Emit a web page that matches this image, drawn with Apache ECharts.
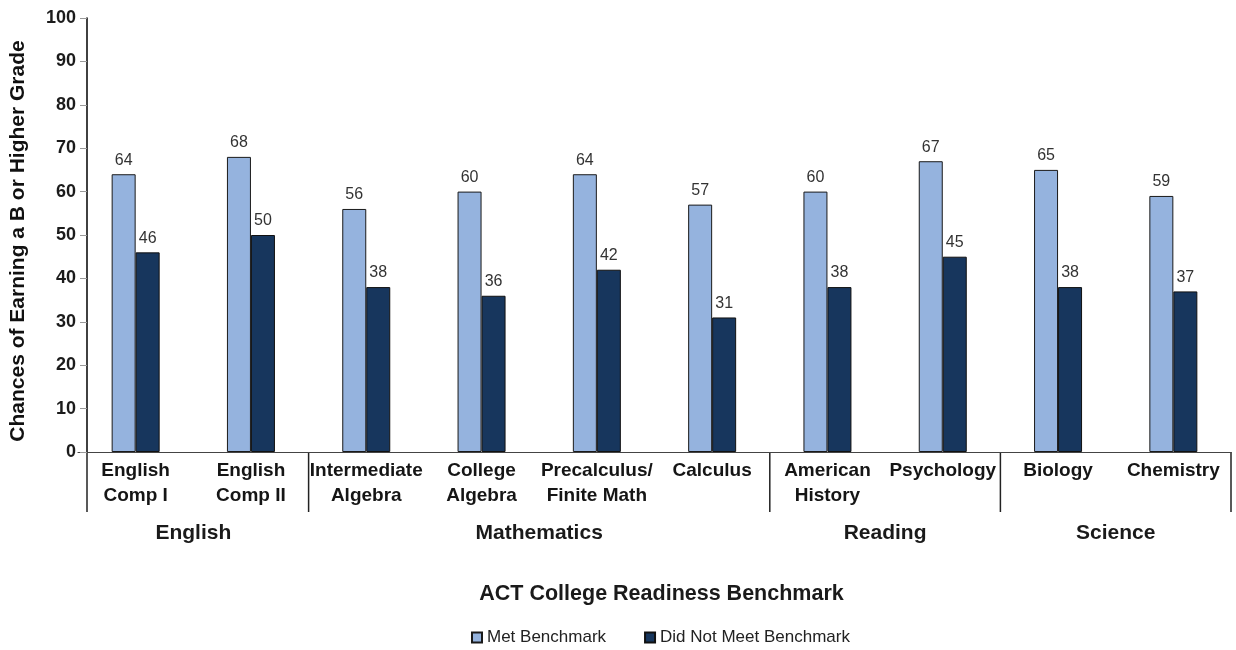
<!DOCTYPE html>
<html>
<head>
<meta charset="utf-8">
<script src="https://cdn.jsdelivr.net/npm/echarts@6/dist/echarts.min.js"></script>
<style>
  html, body { margin: 0; padding: 0; background: #fff; }
  #chart { width: 1236px; height: 650px; }
</style>
</head>
<body>
<div id="chart"></div>
<script>
  // data
  const categories = [
    'English\nComp I', 'English\nComp II', 'Intermediate\nAlgebra', 'College\nAlgebra',
    'Precalculus/\nFinite Math', 'Calculus', 'American\nHistory', 'Psychology', 'Biology', 'Chemistry'
  ]
  const metBenchmark = [64, 68, 56, 60, 64, 57, 60, 67, 65, 59]
  const notMetBenchmark = [46, 50, 38, 36, 42, 31, 38, 45, 38, 37]
  const groupNames = ['English', 'Mathematics', 'Reading', 'Science']
  const groupSizes = [2, 4, 2, 2]

  const FONT = "'Liberation Sans', Arial, sans-serif"
  const GRID_LEFT = 78
  const AXIS_SHIFT = 9 // y axis sits a bit inside the grid

  const chart = echarts.init(document.getElementById('chart'))

  const option = {
    animation: false,
    textStyle: { fontFamily: FONT },
    grid: { left: GRID_LEFT, right: 5, top: 18, bottom: 198 },
    legend: {
      data: ['Met Benchmark', 'Did Not Meet Benchmark'],
      top: 624,
      left: 466,
      icon: 'rect',
      itemWidth: 10,
      itemHeight: 10,
      itemGap: 38,
      textStyle: { fontSize: 17, color: '#222', fontFamily: FONT }
    },
    xAxis: {
      type: 'category',
      data: categories,
      name: 'ACT College Readiness Benchmark',
      nameLocation: 'middle',
      nameGap: 131,
      nameTextStyle: { fontSize: 21.5, fontWeight: 'bold', color: '#1a1a1a', fontFamily: FONT, padding: [0, 0, 0, 14] },
      axisLine: { lineStyle: { color: '#444', width: 1.2 } },
      axisTick: { show: false },
      axisLabel: {
        interval: 0,
        fontSize: 19,
        fontWeight: 'bold',
        color: '#151515',
        lineHeight: 25,
        margin: 6,
        fontFamily: FONT
      }
    },
    yAxis: {
      type: 'value',
      min: 0,
      max: 100,
      interval: 10,
      offset: -AXIS_SHIFT,
      name: 'Chances of Earning a B or Higher Grade',
      nameLocation: 'middle',
      nameGap: 58,
      nameTextStyle: { fontSize: 21, fontWeight: 'bold', color: '#111', fontFamily: FONT, padding: [0, 12, 0, 0] },
      splitLine: { show: false },
      axisLine: { show: true, lineStyle: { color: '#111', width: 1.6 } },
      axisTick: { show: true, inside: false, length: 7, lineStyle: { color: '#999' } },
      axisLabel: { fontSize: 18, fontWeight: 'bold', color: '#1b1b1b', margin: 11, fontFamily: FONT }
    },
    series: [
      {
        name: 'Met Benchmark',
        type: 'bar',
        data: metBenchmark,
        barWidth: 24,
        barGap: '0%',
        itemStyle: { color: '#95B3DE', borderColor: '#1a1a1a', borderWidth: 1 },
        label: { show: true, position: 'top', distance: 6, fontSize: 16, color: '#333', fontFamily: FONT }
      },
      {
        name: 'Did Not Meet Benchmark',
        type: 'bar',
        data: notMetBenchmark,
        barWidth: 24,
        itemStyle: { color: '#17365D', borderColor: '#111', borderWidth: 1 },
        label: { show: true, position: 'top', distance: 6, fontSize: 16, color: '#333', fontFamily: FONT }
      }
    ]
  }

  chart.setOption(option)

  // group separators and group names below the category labels
  const px = i => chart.convertToPixel({ xAxisIndex: 0 }, i)
  const step = px(1) - px(0)
  const y0 = chart.convertToPixel({ yAxisIndex: 0 }, 0)
  const elements = []
  let start = 0
  groupSizes.forEach((size, g) => {
    const end = start + size - 1
    const leftX = g === 0 ? GRID_LEFT + AXIS_SHIFT : px(start) - step / 2
    elements.push({
      type: 'line',
      shape: { x1: leftX, y1: y0, x2: leftX, y2: y0 + 60 },
      style: { stroke: '#222', lineWidth: 1.5 }
    })
    elements.push({
      type: 'text',
      x: (px(start) + px(end)) / 2,
      y: y0 + 81,
      style: {
        text: groupNames[g],
        fontSize: 21,
        fontWeight: 'bold',
        fill: '#1a1a1a',
        fontFamily: FONT,
        align: 'center',
        verticalAlign: 'middle'
      }
    })
    start += size
  })
  const rightX = px(categories.length - 1) + step / 2
  elements.push({
    type: 'line',
    shape: { x1: rightX, y1: y0, x2: rightX, y2: y0 + 60 },
    style: { stroke: '#222', lineWidth: 1.5 }
  })
  chart.setOption({ graphic: elements })
</script>
</body>
</html>
